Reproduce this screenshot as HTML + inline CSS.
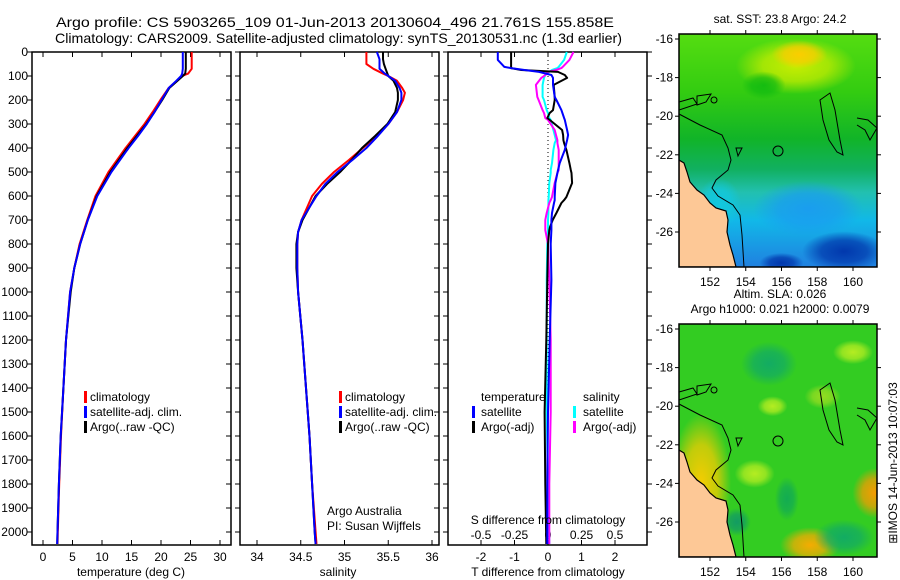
<!DOCTYPE html>
<html><head><meta charset="utf-8"><style>
body{margin:0;background:#fff;}
svg{display:block;font-family:"Liberation Sans",sans-serif;}
text{font-size:12px;fill:#000;}
</style></head><body>
<svg id="fig" width="900" height="580" viewBox="0 0 900 580">
<rect width="900" height="580" fill="#fff"/>
<text x="56" y="27" style="font-size:14px" textLength="558" lengthAdjust="spacingAndGlyphs">Argo profile: CS 5903265_109 01-Jun-2013 20130604_496 21.761S 155.858E</text>
<text x="55" y="43" style="font-size:14px" textLength="567" lengthAdjust="spacingAndGlyphs">Climatology: CARS2009. Satellite-adjusted climatology: synTS_20130531.nc (1.3d earlier)</text>
<g id="panels"></g>
<g id="maps"></g>
<text transform="translate(897,463) rotate(-90)" text-anchor="middle">⊞IMOS 14-Jun-2013 10:07:03</text>
</svg>
<script>
// ---------- data ----------
const depthT = [0,70,90,100,120,150,200,250,300,350,400,500,600,700,800,900,1000,1200,1400,1600,1800,2000,2050];
const tempArgo = [24.2,24.2,24.1,23.7,22.8,21.4,20.2,18.9,17.5,15.9,14.3,11.4,9.1,7.6,6.3,5.3,4.7,3.9,3.45,3.0,2.7,2.45,2.4];
const tempClim = [25.2,25.2,24.6,23.6,22.7,21.3,19.9,18.6,17.2,15.6,14.0,11.1,8.9,7.5,6.2,5.3,4.6,3.9,3.45,3.05,2.75,2.5,2.45];
const tempSat  = [23.7,23.7,23.6,23.4,22.6,21.3,20.1,18.9,17.6,16.1,14.5,11.6,9.2,7.6,6.3,5.3,4.6,3.9,3.45,3.0,2.7,2.45,2.4];
const depthS = [0,30,50,70,90,100,120,150,170,200,250,300,350,400,450,500,550,600,700,750,800,900,1000,1200,1400,1600,1800,2000,2050];
const salArgo = [35.44,35.44,35.45,35.47,35.49,35.5,35.56,35.6,35.61,35.61,35.58,35.49,35.35,35.2,35.08,34.95,34.8,34.67,34.52,34.47,34.45,34.45,34.47,34.52,34.56,34.6,34.63,34.66,34.67];
const salClim = [35.25,35.25,35.25,35.33,35.44,35.5,35.6,35.66,35.69,35.67,35.6,35.5,35.37,35.21,35.05,34.88,34.74,34.63,34.51,34.47,34.46,34.46,34.47,34.52,34.56,34.6,34.63,34.67,34.68];
const salSat  = [35.37,35.4,35.4,35.4,35.46,35.5,35.58,35.63,35.65,35.65,35.6,35.5,35.38,35.25,35.09,34.92,34.78,34.68,34.51,34.47,34.46,34.46,34.47,34.52,34.56,34.6,34.63,34.66,34.67];
const depthD = [0,33,62,67,75,83,96,108,137,187,200,242,254,275,283,325,346,367,379,408,463,492,504,546,604,617,629,671,700,729,742,800,950,1200,1500,1800,2050];
const dTsat  = [-1.5,-1.5,-1.3,-1.1,-0.7,-0.27,0.1,0.15,0.15,0.2,0.25,0.4,0.43,0.48,0.5,0.57,0.6,0.57,0.55,0.5,0.35,0.3,0.28,0.22,0.2,0.2,0.18,0.12,0.1,0.1,0.1,0.08,0.1,0.05,0.0,-0.02,-0.02];
const dTargo = [-1.1,-1.1,-1.1,-1.1,-0.8,0.3,0.5,0.57,0.17,0.2,0.2,0.15,0.05,-0.02,0.05,0.42,0.45,0.46,0.48,0.55,0.64,0.68,0.7,0.72,0.55,0.48,0.4,0.25,0.14,0.06,0.04,0.0,-0.02,-0.05,-0.1,-0.08,-0.05];
const dSsat  = [0.14,0.12,0.08,0.07,0.03,0.008,-0.02,-0.03,-0.04,-0.04,-0.03,-0.01,0.0,0.01,0.02,0.04,0.05,0.06,0.05,0.04,0.03,0.02,0.02,0.01,0.005,0.003,0.003,0.003,0.0,0.0,0.0,-0.005,-0.01,-0.01,-0.01,0.0,0.01];
const dSargo = [0.19,0.16,0.11,0.1,0.06,0.0,-0.02,-0.05,-0.09,-0.08,-0.07,-0.04,-0.03,-0.02,0.0,0.05,0.06,0.07,0.07,0.08,0.08,0.08,0.07,0.05,0.03,0.02,0.01,-0.01,-0.02,-0.02,-0.02,0.0,0.01,0.02,0.02,0.01,0.01];
const depthTicks = [0,100,200,300,400,500,600,700,800,900,1000,1100,1200,1300,1400,1500,1600,1700,1800,1900,2000];
const tempTicks = [0,5,10,15,20,25,30];
const salTicks = [34,34.5,35,35.5,36];
const salTickLabels = ["34","34.5","35","35.5","36"];
const dTTicks = [-2,-1,0,1,2];
const dSTicks = [-0.5,-0.25,0,0.25,0.5];
const dSTickLabels = ["-0.5","-0.25","0","0.25","0.5"];
const lonTicks = [152,154,156,158,160];
const latTicks = [-16,-18,-20,-22,-24,-26];

// ---------- helpers ----------
const NS="http://www.w3.org/2000/svg";
function mk(tag,attrs,parent){const e=document.createElementNS(NS,tag);for(const k in attrs)e.setAttribute(k,attrs[k]);parent.appendChild(e);return e;}
const P=document.getElementById('panels');
const top0=52, bot=545;
const yD=d=>top0+d*0.24;
function axisFn(v0,x0,v1,x1){return v=>x0+(v-v0)*(x1-x0)/(v1-v0);}
const xT=axisFn(0,43,30,220);
const xS=axisFn(34,257,36,432);
const xDT=axisFn(0,548,2,615);
const xDS=axisFn(0,548,0.5,615);
function line(xs,ds,xf,color,w,name){
  const pts=xs.map((v,i)=>{const x=xf(v),y=yD(ds[i]);return (i? ' ':'')+x.toFixed(1)+','+y.toFixed(1);}).join('');
  const e=mk('polyline',{points:pts,fill:'none',stroke:color,'stroke-width':w,'stroke-linejoin':'round'},P);
  
  
  return e;
}
function frame(x0,x1,name){
  const r=mk('rect',{x:x0,y:top0,width:x1-x0,height:bot-top0,fill:'none',stroke:'#000','stroke-width':1.5},P);
  
  
  depthTicks.forEach(d=>{
    mk('line',{x1:x0,x2:x0-5,y1:yD(d),y2:yD(d),stroke:'#000'},P);
    mk('line',{x1:x1,x2:x1+(name==='tdiff-frame'?5:-5),y1:yD(d),y2:yD(d),stroke:'#000'},P);
  });
}
function xticks(ticks,labels,xf,y,name){
  ticks.forEach((t,i)=>{
    mk('line',{x1:xf(t),x2:xf(t),y1:bot,y2:bot-5,stroke:'#000'},P);
    mk('line',{x1:xf(t),x2:xf(t),y1:top0,y2:top0+5,stroke:'#000'},P);
    const tx=mk('text',{x:xf(t),y:y,'text-anchor':'middle'},P);tx.textContent=labels[i];
    
    
  });
}
function txt(x,y,s,name,anchor){const t=mk('text',{x:x,y:y,'text-anchor':anchor||'start'},P);t.textContent=s;
  
  return t;}
function legendBar(x,y,color,name){const r=mk('rect',{x:x,y:y-10,width:3,height:12,fill:color},P);
  
  }

depthTicks.forEach(d=>{txt(28,yD(d)+4,String(d),'depth-tick-label','end');});

// panel 1 temperature
frame(32,231,'temperature-frame');
xticks(tempTicks,tempTicks.map(String),xT,561,'temperature');
line(tempClim,depthT,xT,'#f00',2,'temp-climatology-line');
line(tempArgo,depthT,xT,'#000',2,'temp-argo-line');
line(tempSat,depthT,xT,'#00f',2,'temp-satellite-line');
txt(131,576,'temperature (deg C)','temperature-axis-title','middle');
legendBar(84,401,'#f00','legend-climatology-bar');txt(90,401,'climatology','legend-climatology');
legendBar(84,416,'#00f','legend-satellite-bar');txt(90,416,'satellite-adj. clim.','legend-satellite');
legendBar(84,431,'#000','legend-argo-bar');txt(90,431,'Argo(..raw -QC)','legend-argo');

// panel 2 salinity
frame(240,439,'salinity-frame');
xticks(salTicks,salTickLabels,xS,561,'salinity');
line(salClim,depthS,xS,'#f00',2,'sal-climatology-line');
line(salArgo,depthS,xS,'#000',2,'sal-argo-line');
line(salSat,depthS,xS,'#00f',2,'sal-satellite-line');
txt(338,576,'salinity','salinity-axis-title','middle');
legendBar(339,401,'#f00','legend2-climatology-bar');txt(345,401,'climatology','legend2-climatology');
legendBar(339,416,'#00f','legend2-satellite-bar');txt(345,416,'satellite-adj. clim.','legend2-satellite');
legendBar(339,431,'#000','legend2-argo-bar');txt(345,431,'Argo(..raw -QC)','legend2-argo');
txt(327,515,'Argo Australia','credit-argo-australia');
txt(327,530,'PI: Susan Wijffels','credit-pi');

// panel 3 differences
frame(448,647,'tdiff-frame');
for(let y=top0;y<bot;y+=4){mk('rect',{x:547.5,y:y,width:1,height:1,fill:'#000'},P);}
dTTicks.forEach(t=>{mk('line',{x1:xDT(t),x2:xDT(t),y1:bot,y2:bot-5,stroke:'#000'},P);mk('line',{x1:xDT(t),x2:xDT(t),y1:top0,y2:top0+5,stroke:'#000'},P);
  txt(xDT(t),561,String(t),'tdiff-tick-label','middle');});
dSTicks.forEach((t,i)=>{txt(xDS(t),539,dSTickLabels[i],'sdiff-tick-label','middle');});
line(dSsat,depthD,xDS,'#0ff',2,'sdiff-satellite-line');
line(dSargo,depthD,xDS,'#f0f',2,'sdiff-argo-line');
line(dTargo,depthD,xDT,'#000',2,'tdiff-argo-line');
line(dTsat,depthD,xDT,'#00f',2,'tdiff-satellite-line');
txt(548,576,'T difference from climatology','tdiff-axis-title','middle');
txt(548,524,'S difference from climatology','sdiff-axis-title','middle');
txt(481,401,'temperature','legend3-temperature-header');
txt(583,401,'salinity','legend3-salinity-header');
legendBar(472,416,'#00f','legend3-tsat-bar');txt(481,416,'satellite','legend3-tsat');
legendBar(472,431,'#000','legend3-targo-bar');txt(481,431,'Argo(-adj)','legend3-targo');
legendBar(573,416,'#0ff','legend3-ssat-bar');txt(583,416,'satellite','legend3-ssat');
legendBar(573,431,'#f0f','legend3-sargo-bar');txt(583,431,'Argo(-adj)','legend3-sargo');

// ---------- maps ----------
const M=document.getElementById('maps');
const lonX=axisFn(152,710,160,853);
function drawMap(y0,name,blobs,base,title){
  const g=mk('g',{},M);
  
  
  const latY=axisFn(-16,y0+5,-26,y0+198);
  const id=name+'-clip';
  const cp=mk('clipPath',{id:id},g);mk('rect',{x:679,y:y0,width:198,height:233},cp);
  const inner=mk('g',{'clip-path':'url(#'+id+')'},g);
  const defs=mk('defs',{},g);
  const lg=mk('linearGradient',{id:name+'-lg',x1:0,y1:0,x2:0,y2:1},defs);
  base.forEach(s=>mk('stop',{offset:s[0],'stop-color':s[1]},lg));
  mk('rect',{x:679,y:y0,width:198,height:233,fill:'url(#'+name+'-lg)'},inner);
  blobs.forEach((b,i)=>{
    const rg=mk('radialGradient',{id:name+'-rg'+i},defs);
    mk('stop',{offset:0,'stop-color':b[4],'stop-opacity':0.95},rg);
    mk('stop',{offset:0.55,'stop-color':b[4],'stop-opacity':0.7},rg);
    mk('stop',{offset:1,'stop-color':b[4],'stop-opacity':0},rg);
    mk('ellipse',{cx:lonX(b[0]),cy:latY(b[1]),rx:b[2],ry:b[3],fill:'url(#'+name+'-rg'+i+')'},inner);
  });
  const o=y0-34;
  const land=[[679,160],[684,163],[687,172],[690,182],[697,190],[704,195],[710,203],[716,208],[726,211],[728,220],[727,232],[730,245],[733,255],[736,267],[679,267]];
  mk('polygon',{points:land.map(p=>p[0]+','+(p[1]+o)).join(' '),fill:'#fdc896',stroke:'#000','stroke-width':1.2},inner);
  const iso=[[679,114],[700,125],[722,135],[728,148],[731,160],[728,170],[716,180],[712,188],[718,196],[733,205],[740,215],[742,235],[744,267]];
  mk('polyline',{points:iso.map(p=>p[0]+','+(p[1]+o)).join(' '),fill:'none',stroke:'#000','stroke-width':1},inner);
  mk('polygon',{points:[[820,100],[830,93],[835,110],[840,140],[843,155],[837,152],[829,140],[823,120]].map(p=>p[0]+','+(p[1]+o)).join(' '),fill:'none',stroke:'#000'},inner);
  mk('polyline',{points:[[857,118],[868,120],[877,128],[870,140],[865,130],[857,125]].map(p=>p[0]+','+(p[1]+o)).join(' '),fill:'none',stroke:'#000'},inner);
  mk('polyline',{points:[[679,102],[693,98],[697,104],[679,110]].map(p=>p[0]+','+(p[1]+o)).join(' '),fill:'none',stroke:'#000'},inner);
  mk('polygon',{points:[[697,96],[711,94],[706,102],[697,105]].map(p=>p[0]+','+(p[1]+o)).join(' '),fill:'none',stroke:'#000'},inner);
  mk('circle',{cx:714,cy:100+o,r:3,fill:'none',stroke:'#000'},inner);
  mk('circle',{cx:778,cy:151+o,r:5,fill:'none',stroke:'#000'},inner);
  mk('polygon',{points:[[736,148],[742,148],[738,156]].map(p=>p[0]+','+(p[1]+o)).join(' '),fill:'none',stroke:'#000'},inner);
  mk('rect',{x:679,y:y0,width:198,height:233,fill:'none',stroke:'#000','stroke-width':1.5},g);
  lonTicks.forEach(l=>{mk('line',{x1:lonX(l),x2:lonX(l),y1:y0,y2:y0-4,stroke:'#000'},g);mk('line',{x1:lonX(l),x2:lonX(l),y1:y0+233,y2:y0+237,stroke:'#000'},g);
    const t=mk('text',{x:lonX(l),y:y0+252,'text-anchor':'middle'},g);t.textContent=String(l);
    
    });
  latTicks.forEach(l=>{mk('line',{x1:679,x2:675,y1:latY(l),y2:latY(l),stroke:'#000'},g);mk('line',{x1:877,x2:881,y1:latY(l),y2:latY(l),stroke:'#000'},g);
    const t=mk('text',{x:673,y:latY(l)+4,'text-anchor':'end'},g);t.textContent=String(l);
    
    });
  title.forEach((s,i)=>{const t=mk('text',{x:780,y:y0-11-(title.length-1-i)*15,'text-anchor':'middle'},g);t.textContent=s[0];
    
    });
}
drawMap(34,'sst-map',[
 [156.8,-17.4,60,28,'#ccee00'],[157,-16.8,28,14,'#ffcc00'],[155,-18.4,22,14,'#11bb11'],
 [157.5,-24.8,55,28,'#1a9cf0'],[159.5,-27,42,20,'#0033aa'],[156,-27.6,22,10,'#0033aa'],[152.5,-24.5,22,25,'#11c8e0']],
 [[0,'#55dd11'],[0.25,'#33cc11'],[0.45,'#11b428'],[0.58,'#11b060'],[0.68,'#22c0b0'],[0.8,'#11b8e8'],[1,'#2080e0']],
 [['sat. SST: 23.8 Argo: 24.2','sst-map-title']]);
drawMap(324,'sla-map',[
 [151.5,-24,30,70,'#ffcc00'],[157.6,-27.2,30,18,'#ffaa00'],[161.2,-24.5,22,25,'#ff9900'],
 [155.3,-17.8,28,22,'#11aa66'],[159.5,-26.8,30,18,'#11aa66'],[153.5,-26,14,14,'#119966'],[156.3,-24.8,12,22,'#11aa55'],
 [155.5,-20,15,10,'#bbee22'],[160,-17.2,20,12,'#bbee22'],[154.5,-23.5,20,14,'#bbee22'],[158.3,-19.5,18,12,'#99dd22']],
 [[0,'#33cc22'],[1,'#33cc22']],
 [['Altim. SLA: 0.026','sla-map-title-1'],['Argo h1000: 0.021 h2000: 0.0079','sla-map-title-2']]);
</script>
</body></html>
